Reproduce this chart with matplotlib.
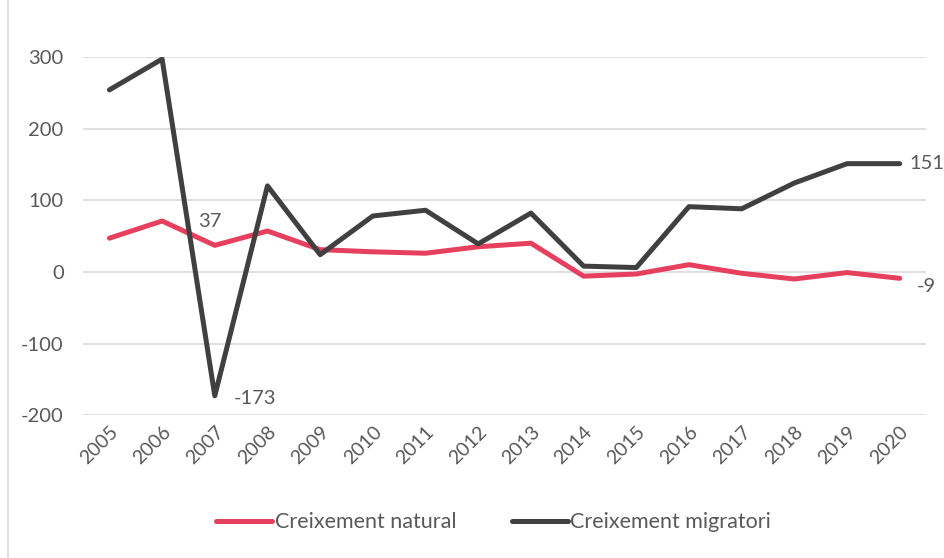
import matplotlib.pyplot as plt
from matplotlib.patches import Rectangle

plt.rcParams['font.family'] = ['Lato', 'DejaVu Sans']
plt.rcParams['axes.unicode_minus'] = False

years = ["2005", "2006", "2007", "2008", "2009", "2010", "2011", "2012",
         "2013", "2014", "2015", "2016", "2017", "2018", "2019", "2020"]
natural = [47, 71, 37, 57, 31, 28, 26, 35, 40, -6, -3, 10, -2, -10, -1, -9]
migratori = [254, 297, -173, 120, 24, 78, 86, 39, 82, 8, 6, 91, 88, 124, 151, 151]

red = "#E5405E"
dark = "#404040"
txt = "#595959"

fig = plt.figure(figsize=(9.44, 5.58), dpi=100)
ax = fig.add_axes([0.088, 0.256, 0.893, 0.642])

x = list(range(len(years)))
ax.plot(x, natural, color=red, lw=3.6, solid_capstyle="round", label="Creixement natural")
ax.plot(x, migratori, color=dark, lw=3.6, solid_capstyle="round", label="Creixement migratori")

ax.set_xlim(-0.5, len(years) - 0.5)
ax.set_ylim(-200, 300)
ax.set_yticks([-200, -100, 0, 100, 200, 300])
ax.yaxis.grid(True, color="#D9D9D9", lw=1.2)
ax.set_axisbelow(True)
for s in ax.spines.values():
    s.set_visible(False)
ax.tick_params(axis="both", length=0, colors=txt, labelsize=14.5)
ax.tick_params(axis="y", pad=14)
ax.tick_params(axis="x", labelsize=14, pad=6)
ax.set_xticks(x)
ax.set_xticklabels(years, rotation=45, ha="right", rotation_mode="anchor")

# data labels
i07 = years.index("2007")
ax.annotate(str(natural[i07]), (i07, natural[i07]), xytext=(-12, 11),
            textcoords="offset points", color=txt, fontsize=14.5, va="bottom")
ax.annotate(str(migratori[i07]), (i07, migratori[i07]), xytext=(14, 4),
            textcoords="offset points", color=txt, fontsize=14.5, va="top")
ax.annotate(str(migratori[-1]), (x[-1], migratori[-1]), xytext=(7, 0),
            textcoords="offset points", color=txt, fontsize=14.5, va="center")
ax.annotate(str(natural[-1]), (x[-1], natural[-1]), xytext=(12, -6),
            textcoords="offset points", color=txt, fontsize=14.5, va="center")

fig.legend(loc="center", bbox_to_anchor=(0.523, 0.064), ncol=2, frameon=False,
           fontsize=15.5, labelcolor=txt, handlelength=2.6, handletextpad=0.1,
           columnspacing=2.6)

fig.patches.append(Rectangle((0.009, -0.01), 1.1, 1.1, transform=fig.transFigure,
                             fill=False, edgecolor="#D9D9D9", lw=1.2))

fig.savefig("out.png", dpi=100)
